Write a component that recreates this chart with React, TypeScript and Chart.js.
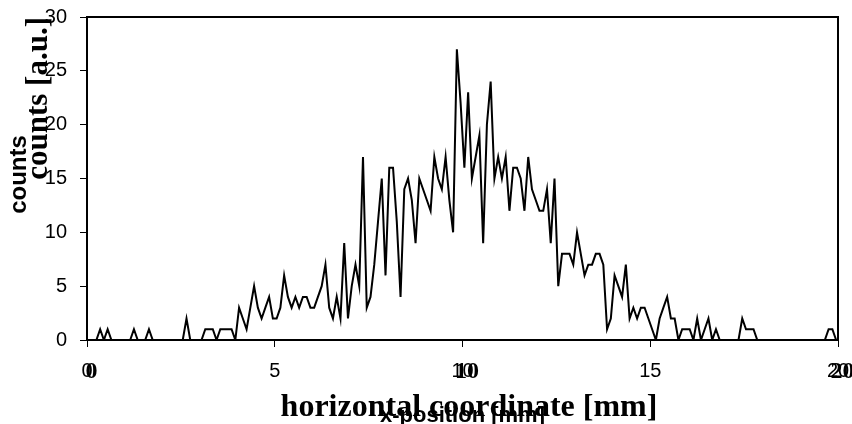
import React, { useEffect, useRef } from 'react';
import { Chart, registerables } from 'chart.js';

Chart.register(...registerables);

// Histogram of counts, 0.1 mm bins from 0 to 20 mm
const binWidth = 0.1;
const counts: number[] = [
  0, 0, 0, 1, 0, 1, 0, 0, 0, 0,
  0, 0, 1, 0, 0, 0, 1, 0, 0, 0,
  0, 0, 0, 0, 0, 0, 2, 0, 0, 0,
  0, 1, 1, 1, 0, 1, 1, 1, 1, 0,
  3, 2, 1, 3, 5, 3, 2, 3, 4, 2,
  2, 3, 6, 4, 3, 4, 3, 4, 4, 3,
  3, 4, 5, 7, 3, 2, 4, 2, 9, 2,
  5, 7, 5, 17, 3, 4, 7, 11, 15, 6,
  16, 16, 11, 4, 14, 15, 13, 9, 15, 14,
  13, 12, 17, 15, 14, 17, 13, 10, 27, 22,
  16, 23, 15, 17, 19, 9, 20, 24, 15, 17,
  15, 17, 12, 16, 16, 15, 12, 17, 14, 13,
  12, 12, 14, 9, 15, 5, 8, 8, 8, 7,
  10, 8, 6, 7, 7, 8, 8, 7, 1, 2,
  6, 5, 4, 7, 2, 3, 2, 3, 3, 2,
  1, 0, 2, 3, 4, 2, 2, 0, 1, 1,
  1, 0, 2, 0, 1, 2, 0, 1, 0, 0,
  0, 0, 0, 0, 2, 1, 1, 1, 0, 0,
  0, 0, 0, 0, 0, 0, 0, 0, 0, 0,
  0, 0, 0, 0, 0, 0, 0, 1, 1, 0,
];

const xTicks = [0, 5, 10, 15, 20];
const xTicksSerif = [0, 10, 20];
const yTicks = [0, 5, 10, 15, 20, 25, 30];

const SANS = "'Liberation Sans', Arial, sans-serif";
const SERIF = "'Liberation Serif', 'Times New Roman', serif";

const noPad = (s: any) => {
  s.paddingLeft = 0;
  s.paddingRight = 0;
  s.paddingTop = 0;
  s.paddingBottom = 0;
};

// nudges the title boxes of the overlay axes after layout (ticks already configured)
const titleNudge = {
  id: 'titleNudge',
  afterLayout(chart: any) {
    const x2 = chart.scales.x2;
    if (x2) { x2.left += 6.5; x2.right += 6.5; }
    const yS = chart.scales.yS;
    if (yS) { yS.top -= 4; yS.bottom -= 4; yS.left += 1.5; yS.right += 1.5; }
  },
};

export default function App() {
  const ref = useRef<HTMLCanvasElement | null>(null);

  useEffect(() => {
    const canvas = ref.current;
    if (!canvas) return;
    const points = counts.map((v, i) => ({ x: (i + 0.5) * binWidth, y: v }));
    const chart = new Chart(canvas, {
      type: 'line',
      data: {
        datasets: [
          {
            data: points,
            borderColor: '#000',
            borderWidth: 2,
            pointRadius: 0,
            tension: 0,
            fill: false,
          },
        ],
      },
      plugins: [titleNudge],
      options: {
        animation: false,
        responsive: false,
        maintainAspectRatio: false,
        parsing: false,
        layout: { padding: { top: 17, right: 14, bottom: 0, left: 0 } },
        plugins: { legend: { display: false }, tooltip: { enabled: false }, title: { display: false } },
        scales: {
          x: {
            type: 'linear',
            position: 'bottom',
            min: 0,
            max: 20,
            afterBuildTicks: (s: any) => { s.ticks = xTicks.map((value) => ({ value })); },
            afterFit: (s: any) => { s.height = 84; noPad(s); },
            grid: { display: true, drawOnChartArea: false, drawTicks: true, tickLength: 7, color: '#000', lineWidth: 1 },
            border: { display: true, color: '#000', width: 2 },
            ticks: { color: '#000', font: { family: SANS, size: 20, lineHeight: 1 }, padding: 14, maxRotation: 0, autoSkip: false },
            title: { display: true, text: 'x-position [mm]', color: '#000', font: { family: SANS, size: 22, weight: 'bold', lineHeight: 1 }, padding: { top: 0, bottom: -3 } },
          },
          y: {
            type: 'linear',
            position: 'left',
            min: 0,
            max: 30,
            afterBuildTicks: (s: any) => { s.ticks = yTicks.map((value) => ({ value })); },
            afterFit: (s: any) => { s.width = 87; noPad(s); },
            grid: { display: true, drawOnChartArea: false, drawTicks: true, tickLength: 7, color: '#000', lineWidth: 1 },
            border: { display: true, color: '#000', width: 2 },
            ticks: { color: '#000', font: { family: SANS, size: 20, lineHeight: 1 }, padding: 13 },
            title: { display: true, text: 'counts [a.u.]', align: 'end', color: '#000', font: { family: SERIF, size: 31, weight: 'bold', lineHeight: 1 }, padding: { top: 23.5, bottom: 0 } },
          },
          x2: {
            type: 'linear',
            position: 'bottom',
            min: 0,
            max: 20,
            afterBuildTicks: (s: any) => { s.ticks = xTicksSerif.map((value) => ({ value })); },
            afterFit: (s: any) => { s.height = 0; noPad(s); },
            grid: { display: false },
            border: { display: false },
            ticks: { color: '#000', mirror: true, font: { family: SERIF, size: 24, weight: 'bold', lineHeight: 1 }, padding: 40, labelOffset: 4.5, maxRotation: 0, autoSkip: false },
            title: { display: true, text: 'horizontal coordinate [mm]', color: '#000', font: { family: SERIF, size: 32, weight: 'bold', lineHeight: 1 }, padding: { top: 0, bottom: 0.5 } },
          },
          yS: {
            type: 'linear',
            position: 'left',
            min: 0,
            max: 30,
            afterFit: (s: any) => { s.width = 0; noPad(s); },
            grid: { display: false },
            border: { display: false },
            ticks: { display: false },
            title: { display: true, text: 'counts', color: '#000', font: { family: SANS, size: 24, weight: 'bold', lineHeight: 1 }, padding: { top: 5.5, bottom: 0 } },
          },
          xTop: {
            type: 'linear',
            position: 'top',
            min: 0,
            max: 20,
            afterFit: (s: any) => { s.height = 0; noPad(s); },
            grid: { display: false },
            border: { display: true, color: '#000', width: 2 },
            ticks: { display: false },
          },
          yRight: {
            type: 'linear',
            position: 'right',
            min: 0,
            max: 30,
            afterFit: (s: any) => { s.width = 0; noPad(s); },
            grid: { display: false },
            border: { display: true, color: '#000', width: 2 },
            ticks: { display: false },
          },
        },
      } as any,
    });
    return () => chart.destroy();
  }, []);

  return (
    <div style={{ position: 'absolute', left: 0, top: 0, width: 852, height: 424, background: '#fff' }}>
      <canvas ref={ref} width={852} height={424} style={{ width: 852, height: 424, display: 'block' }} />
    </div>
  );
}
